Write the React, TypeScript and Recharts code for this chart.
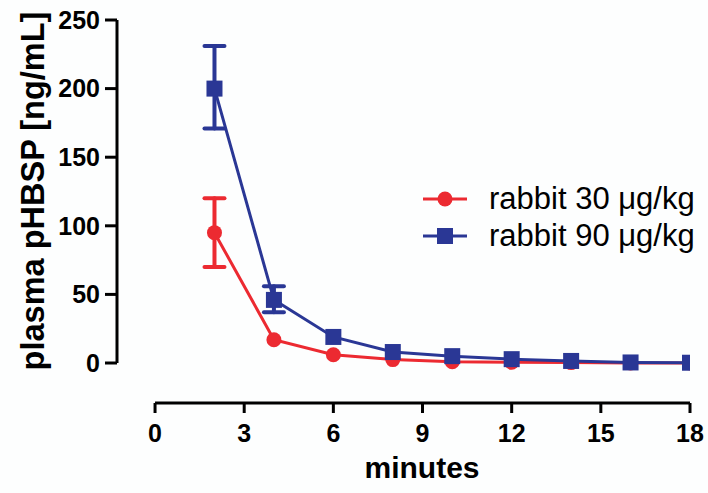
import React from "react";
import { LineChart, Line, XAxis, YAxis, ErrorBar, ReferenceLine } from "recharts";

// values
const minutes = [2, 4, 6, 8, 10, 12, 14, 16, 18];
const rabbit30 = [95, 17, 6, 2.5, 1, 0.5, 0.3, 0, 0];
const rabbit30Err: (number | number[])[] = [[25, 25], 0, 0, 0, 0, 0, 0, 0, 0];
const rabbit90 = [200, 46, 19, 8, 5, 2.8, 1.5, 0.4, 0.2];
const rabbit90Err: (number | number[])[] = [[29, 31], [9, 10], 0, 0, 0, 0, 0, 0, 0];
const xTicks = [0, 3, 6, 9, 12, 15, 18];
const yTicks = [0, 50, 100, 150, 200, 250];

const RED = "#ec2a31";
const BLUE = "#2a3795";
const FONT = "'Liberation Sans', Arial, Helvetica, sans-serif";

// axes are drawn detached from the plot, so the domains reach past 0
const X_MIN = -1.28;
const Y_MIN = -29.15;

const data = minutes.map((m, i) => ({
  minute: m,
  r30: rabbit30[i],
  r30err: rabbit30Err[i],
  r90: rabbit90[i],
  r90err: rabbit90Err[i],
}));

const SquareDot = (props: any) => {
  const { cx, cy, index } = props;
  if (cx == null || cy == null) return <g key={index} />;
  return <rect key={index} x={cx - 8} y={cy - 8} width={16} height={16} fill={BLUE} />;
};

const CircleDot = (props: any) => {
  const { cx, cy, index } = props;
  if (cx == null || cy == null) return <g key={index} />;
  return <circle key={index} cx={cx} cy={cy} r={7.5} fill={RED} />;
};

const legendItems = [
  { label: "rabbit 30 \u03bcg/kg", color: RED, shape: "circle" },
  { label: "rabbit 90 \u03bcg/kg", color: BLUE, shape: "square" },
];

const LegendBox = () => (
  <div style={{ position: "absolute", left: 423, top: 180, fontFamily: FONT, fontSize: 31, color: "#000", lineHeight: "37px" }}>
    {legendItems.map((it) => (
      <div key={it.label} style={{ display: "flex", alignItems: "center", height: 37 }}>
        <svg width={44} height={20} style={{ marginRight: 22 }}>
          <line x1={0} x2={44} y1={10} y2={10} stroke={it.color} strokeWidth={3} />
          {it.shape === "circle" ? (
            <circle cx={22} cy={10} r={7.5} fill={it.color} />
          ) : (
            <rect x={14} y={2} width={16} height={16} fill={it.color} />
          )}
        </svg>
        <span style={{ whiteSpace: "nowrap" }}>{it.label}</span>
      </div>
    ))}
  </div>
);

const App = () => {
  return (
    <div style={{ position: "absolute", left: 0, top: 0, width: 708, height: 493, background: "#fdfefe" }}>
      <LineChart width={708} height={493} data={data} margin={{ top: 20, right: 18, bottom: 0, left: 0 }}>
        <XAxis
          dataKey="minute"
          type="number"
          domain={[X_MIN, 18]}
          ticks={xTicks}
          allowDataOverflow
          axisLine={false}
          tickLine={{ stroke: "#000", strokeWidth: 3 }}
          tickSize={10}
          tickMargin={11}
          tick={{ fill: "#000", fontSize: 25, fontWeight: "bold", fontFamily: FONT }}
          height={90}
          label={{
            content: () => (
              <text x={422} y={478} textAnchor="middle" fontFamily={FONT} fontWeight="bold" fontSize={30} fill="#000">
                minutes
              </text>
            ),
          }}
        />
        <YAxis
          type="number"
          domain={[Y_MIN, 250]}
          ticks={yTicks}
          allowDataOverflow
          width={117}
          axisLine={false}
          tickLine={{ stroke: "#000", strokeWidth: 3 }}
          tickSize={12}
          tickMargin={5}
          tick={{ fill: "#000", fontSize: 25, fontWeight: "bold", fontFamily: FONT }}
          label={{
            content: () => (
              <text
                x={0}
                y={0}
                transform="translate(44 191) rotate(-90)"
                textAnchor="middle"
                fontFamily={FONT}
                fontWeight="bold"
                fontSize={32.5}
                fill="#000"
              >
                plasma pHBSP [ng/mL]
              </text>
            ),
          }}
        />
        {/* detached axis lines */}
        <ReferenceLine
          segment={[{ x: X_MIN, y: 0 }, { x: X_MIN, y: 250 }]}
          stroke="#000"
          strokeWidth={3}
          ifOverflow="visible"
        />
        <ReferenceLine
          segment={[{ x: 0, y: Y_MIN }, { x: 18, y: Y_MIN }]}
          stroke="#000"
          strokeWidth={3}
          ifOverflow="visible"
        />
        <Line
          type="linear"
          dataKey="r30"
          name="rabbit 30 μg/kg"
          stroke={RED}
          strokeWidth={3}
          dot={CircleDot}
          activeDot={false}
          isAnimationActive={false}
        >
          <ErrorBar dataKey="r30err" width={10} stroke={RED} strokeWidth={4} strokeLinecap="round" isAnimationActive={false} />
        </Line>
        <Line
          type="linear"
          dataKey="r90"
          name="rabbit 90 μg/kg"
          stroke={BLUE}
          strokeWidth={3}
          dot={SquareDot}
          activeDot={false}
          isAnimationActive={false}
        >
          <ErrorBar dataKey="r90err" width={10} stroke={BLUE} strokeWidth={4} strokeLinecap="round" isAnimationActive={false} />
        </Line>
      </LineChart>
      <LegendBox />
    </div>
  );
};

export default App;
